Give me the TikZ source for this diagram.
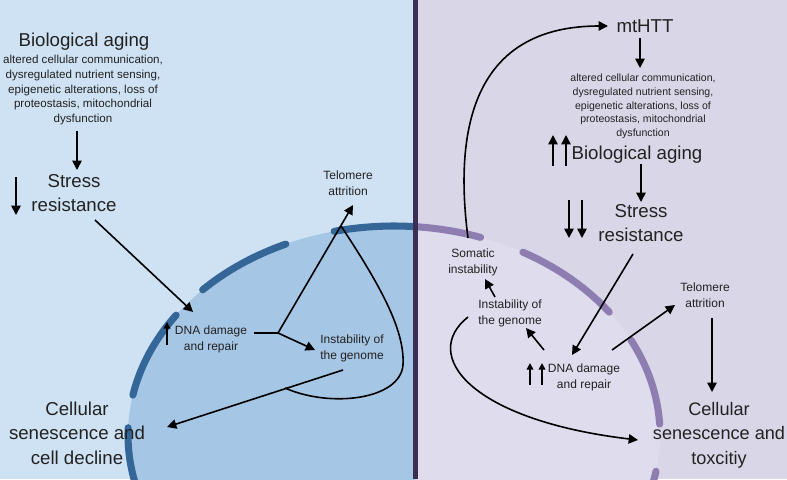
\documentclass[tikz,border=0pt]{standalone}
\usepackage{fontspec}
\setmainfont{Liberation Sans}
\usetikzlibrary{arrows.meta}
\definecolor{bgL}{RGB}{207,226,243}
\definecolor{cellLc}{RGB}{166,198,229}
\definecolor{bgR}{RGB}{217,214,232}
\definecolor{cellRc}{RGB}{222,220,237}
\definecolor{dashB}{RGB}{52,102,152}
\definecolor{dashP}{RGB}{142,125,176}
\definecolor{divc}{RGB}{58,46,84}
\definecolor{txt}{RGB}{34,34,34}
\begin{document}
\begin{tikzpicture}[x=0.75pt,y=-0.75pt,
  arr/.style={line width=1.2pt,-{Triangle[length=7pt,width=7pt]}},
  sarr/.style={line width=1.2pt,-{Triangle[length=5pt,width=5pt]}},
  ln/.style={line width=1.2pt},
  big/.style={font=\fontsize{14}{18.4}\selectfont,text=txt,align=center,inner sep=0pt},
  mid/.style={font=\fontsize{9}{12}\selectfont,text=txt,align=center,inner sep=0pt},
  sml/.style={font=\fontsize{8.7}{10.9}\selectfont,text=txt,align=center,inner sep=0pt},
  smr/.style={font=\fontsize{7.9}{10.3}\selectfont,text=txt,align=center,inner sep=0pt},
  dsh/.style={line width=5.3pt,line cap=round}]
\useasboundingbox (0,0) rectangle (787,479);
\fill[bgL] (0,0) rectangle (415.5,479);
\fill[bgR] (415.5,0) rectangle (787,479);
\begin{scope}
\clip (0,0) rectangle (415.5,479);
\fill[cellLc] (394,435) ellipse [x radius=199.5pt,y radius=156.75pt];
\foreach \a/\b in {71/103,114/136,145/169,178/200}
  \draw[dsh,dashB] plot[domain=\a:\b,variable=\t,samples=30] ({394+266*cos(\t)},{435-209*sin(\t)});
\end{scope}
\begin{scope}
\clip (415.5,0) rectangle (787,479);
\fill[cellRc] (394,435) ellipse [x radius=199.5pt,y radius=156.75pt];
\foreach \a/\b in {71/103,36/61,3/27,-20/-10}
  \draw[dsh,dashP] plot[domain=\a:\b,variable=\t,samples=30] ({394+266*cos(\t)},{435-209*sin(\t)});
\end{scope}
\fill[divc] (413,0) rectangle (418,479);

% left texts
\node[big] (bioL) at (84,42) {Biological aging};
\node[sml] (detL) at (83,90) {altered cellular communication,\\dysregulated nutrient sensing,\\epigenetic alterations, loss of\\proteostasis, mitochondrial\\dysfunction};
\node[big] (stressL) at (74,193) {Stress\\resistance};
\node[mid] (dnaL) at (211,339) {DNA damage\\and repair};
\node[mid] (telL) at (348,183) {Telomere\\attrition};
\node[mid] (insL) at (352,348) {Instability of\\the genome};
\node[big] (cellL) at (77,433) {Cellular\\senescence and\\cell decline};

% right texts
\node[big] (mt) at (645,26) {mtHTT};
\node[smr] (detR) at (643,106.5) {altered cellular communication,\\dysregulated nutrient sensing,\\epigenetic alterations, loss of\\proteostasis, mitochondrial\\dysfunction};
\node[big] (bioR) at (637,155) {Biological aging};
\node[big] (stressR) at (641,223) {Stress\\resistance};
\node[mid] (telR) at (705,295) {Telomere\\attrition};
\node[mid] (dnaR) at (584,377) {DNA damage\\and repair};
\node[mid] (insR) at (510,313) {Instability of\\the genome};
\node[mid] (somR) at (473,262) {Somatic\\instability};
\node[big,font=\fontsize{13.6}{18.4}\selectfont] (cellR) at (719,435) {Cellular\\senescence and\\toxcitiy};

% left connectors
\coordinate (l1a) at (77,131); \coordinate (l1b) at (77,170);
\draw[arr] (l1a) -- (l1b);
\coordinate (l2a) at (16,177); \coordinate (l2b) at (16,215);
\draw[arr] (l2a) -- (l2b);
\coordinate (l3a) at (95,220); \coordinate (l3b) at (193,312);
\draw[arr] (l3a) -- (l3b);
\coordinate (l4a) at (167,345); \coordinate (l4b) at (167,322);
\draw[sarr] (l4a) -- (l4b);
\coordinate (dnaLr) at (254,333); \coordinate (J) at (278,333);
\coordinate (telLtip) at (353,205); \coordinate (insLtip) at (315,350);
\draw[ln] (dnaLr) -- (J);
\draw[arr] (J) -- (telLtip);
\draw[arr] (J) -- (insLtip);
\coordinate (lpA) at (341,226); \coordinate (lpM) at (403,365); \coordinate (lpE) at (285,388);
\draw[ln] (lpA) .. controls (380,285) and (405,330) .. (lpM) .. controls (400,400) and (330,408) .. (lpE);
\coordinate (l5a) at (343,370); \coordinate (l5b) at (167,427);
\draw[arr] (l5a) -- (l5b);

% right connectors
\coordinate (r0a) at (468,238); \coordinate (r0b) at (608,26);
\draw[arr] (r0a) .. controls (452,115) and (482,26) .. (r0b);
\coordinate (r1a) at (640,38); \coordinate (r1b) at (640,68);
\draw[arr] (r1a) -- (r1b);
\coordinate (r2a) at (553,166); \coordinate (r2b) at (553,135);
\coordinate (r3a) at (566,166); \coordinate (r3b) at (566,135);
\draw[arr] (r2a) -- (r2b);
\draw[arr] (r3a) -- (r3b);
\coordinate (r4a) at (641,164); \coordinate (r4b) at (641,202);
\draw[arr] (r4a) -- (r4b);
\coordinate (r5a) at (569,200); \coordinate (r5b) at (569,238);
\coordinate (r6a) at (582,200); \coordinate (r6b) at (582,238);
\draw[arr] (r5a) -- (r5b);
\draw[arr] (r6a) -- (r6b);
\coordinate (r7a) at (633,254); \coordinate (r7b) at (572,355);
\draw[arr] (r7a) -- (r7b);
\coordinate (r8a) at (612,350); \coordinate (r8b) at (675,305);
\draw[arr] (r8a) -- (r8b);
\coordinate (r9a) at (712,318); \coordinate (r9b) at (712,392);
\draw[arr] (r9a) -- (r9b);
\coordinate (r10a) at (530,385); \coordinate (r10b) at (530,363);
\coordinate (r11a) at (542,385); \coordinate (r11b) at (542,363);
\draw[sarr] (r10a) -- (r10b);
\draw[sarr] (r11a) -- (r11b);
\coordinate (r12a) at (544,350); \coordinate (r12b) at (526,328);
\draw[arr] (r12a) -- (r12b);
\coordinate (r13a) at (495,297); \coordinate (r13b) at (485,279);
\draw[arr] (r13a) -- (r13b);
\coordinate (r14a) at (468,317); \coordinate (r14b) at (638,440);
\draw[arr] (r14a) .. controls (420,355) and (470,420) .. (r14b);
\end{tikzpicture}
\end{document}
